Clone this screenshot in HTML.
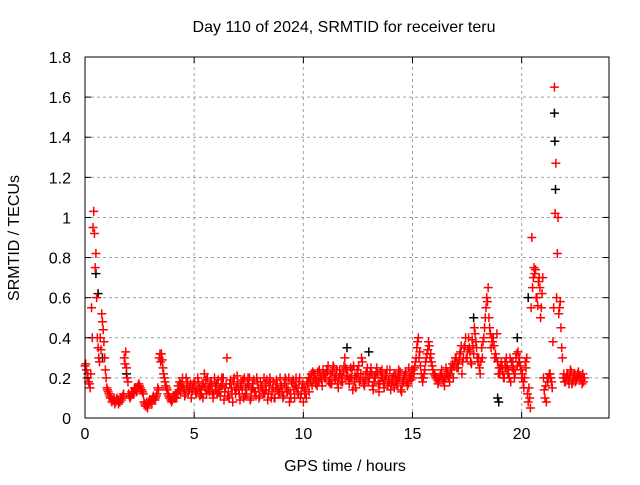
<!DOCTYPE html>
<html><head><meta charset="utf-8"><style>
body{margin:0;background:#fff;}
svg text{font-family:"Liberation Sans",sans-serif;font-size:16px;fill:#000;}
</style></head><body>
<svg width="640" height="480" xmlns="http://www.w3.org/2000/svg">
<g id="grid"></g>
<g id="marks"></g>
<rect x="85" y="57" width="524" height="361" fill="none" stroke="#000" stroke-width="1"/>
<g id="ticks"></g>
<text x="344" y="32" text-anchor="middle">Day 110 of 2024, SRMTID for receiver teru</text>
<text x="345" y="471" text-anchor="middle">GPS time / hours</text>
<text transform="translate(19,238) rotate(-90)" text-anchor="middle">SRMTID / TECUs</text>
</svg>
<script>
const xTicks=[0,5,10,15,20];
const yTicks=[0,0.2,0.4,0.6,0.8,1,1.2,1.4,1.6,1.8];
const yTickLabels=["0","0.2","0.4","0.6","0.8","1","1.2","1.4","1.6","1.8"];
const red1=[0.26,0.2,0.17,0.55,1.03,0.82,0.35,0.4,0.48,0.3,
0.15,0.12,0.1,0.09,0.08,0.09,0.08,0.1,0.3,0.25,
0.12,0.11,0.13,0.14,0.15,0.16,0.14,0.08,0.06,0.07,
0.08,0.1,0.09,0.12,0.3,0.32,0.22,0.16,0.12,0.1,
0.09,0.11,0.1,0.14,0.17,0.15,0.12,0.18,0.15,0.13,
0.16,0.12,0.18,0.14,0.1,0.15,0.2,0.13,0.17,0.12,
0.14,0.19,0.11,0.16,0.13,0.3,0.1,0.15,0.18,0.12,
0.17,0.09,0.14,0.2,0.12,0.16,0.1,0.15,0.13,0.18,
0.11,0.16,0.2,0.14,0.12,0.18,0.15,0.1,0.17,0.13,
0.16,0.11,0.19,0.14,0.12,0.17,0.1,0.15,0.18,0.12,
0.08,0.14,0.17,0.2,0.16,0.22,0.19,0.18,0.21,0.24,
0.2,0.23,0.19,0.17,0.25,0.21,0.15,0.22,0.18,0.3,
0.24,0.17,0.2,0.26,0.15,0.22,0.19,0.28,0.16,0.23,
0.18,0.25,0.14,0.2,0.22,0.17,0.24,0.15,0.21,0.19,
0.14,0.18,0.22,0.16,0.2,0.13,0.19,0.23,0.17,0.21,
0.2,0.25,0.35,0.3,0.22,0.2,0.28,0.34,0.3,0.26,
0.22,0.2,0.18,0.22,0.19,0.2,0.23,0.18,0.24,0.26,
0.3,0.25,0.33,0.28,0.36,0.3,0.35,0.27,0.32,0.38,
0.28,0.22,0.3,0.45,0.6,0.5,0.35,0.4,0.32,0.28,
0.22,0.26,0.2,0.3,0.24,0.18,0.28,0.22,0.26,0.3,
0.2,0.15,0.25,0.08,0.05,0.65,0.72,0.6,0.7,0.55,
0.2,0.16,0.18,0.22,0.15,1.65,0.6,0.52,0.45,0.2,
0.18,0.22,0.2,0.17,0.21,0.19,0.23,0.2,0.22];
const red2=[0.24,0.18,0.22,0.95,0.75,0.4,0.28,0.52,0.38,0.2,
0.13,0.1,0.09,0.07,0.1,0.08,0.09,0.12,0.33,0.18,
0.1,0.12,0.15,0.13,0.17,0.14,0.12,0.06,0.05,0.09,
0.07,0.09,0.11,0.14,0.28,0.25,0.18,0.14,0.1,0.08,
0.1,0.12,0.16,0.13,0.2,0.11,0.16,0.14,0.1,0.17,
0.13,0.2,0.11,0.16,0.22,0.12,0.15,0.18,0.1,0.16,
0.12,0.15,0.2,0.09,0.17,0.13,0.19,0.08,0.14,0.21,
0.12,0.18,0.1,0.15,0.2,0.09,0.17,0.13,0.2,0.1,
0.15,0.12,0.17,0.09,0.2,0.13,0.1,0.19,0.12,0.16,
0.1,0.2,0.13,0.08,0.18,0.14,0.2,0.12,0.1,0.17,
0.12,0.18,0.13,0.22,0.19,0.17,0.23,0.2,0.16,0.2,
0.24,0.18,0.22,0.26,0.19,0.17,0.24,0.2,0.26,0.21,
0.19,0.25,0.14,0.21,0.24,0.18,0.3,0.17,0.22,0.2,
0.23,0.16,0.21,0.25,0.13,0.2,0.17,0.22,0.16,0.24,
0.2,0.15,0.19,0.24,0.14,0.18,0.22,0.16,0.2,0.24,
0.22,0.3,0.4,0.26,0.18,0.24,0.32,0.36,0.28,0.22,
0.2,0.17,0.21,0.2,0.16,0.22,0.2,0.25,0.2,0.3,
0.27,0.32,0.22,0.35,0.3,0.4,0.28,0.36,0.42,0.3,
0.25,0.35,0.4,0.55,0.65,0.42,0.38,0.3,0.42,0.25,
0.28,0.2,0.25,0.22,0.3,0.25,0.2,0.32,0.28,0.24,
0.18,0.28,0.12,0.1,0.9,0.75,0.6,0.68,0.5,0.7,
0.1,0.2,0.22,0.18,0.55,1.27,1.0,0.58,0.3,0.18,
0.21,0.17,0.23,0.2,0.18,0.22,0.2,0.17,0.2];
const red3=[0.27,0.22,0.15,0.4,0.92,0.6,0.3,0.34,0.44,0.24,
0.14,0.11,0.08,0.1,0.09,0.07,0.1,0.11,0.27,0.2,
0.11,0.13,0.12,0.15,0.16,0.15,0.13,0.07,0.08,0.08,
0.09,0.11,0.1,0.15,0.32,0.29,0.2,0.15,0.11,0.09,
0.11,0.1,0.13,0.18,0.16,0.14,0.2,0.13,0.17,0.15,
0.18,0.14,0.15,0.12,0.17,0.19,0.14,0.16,0.13,0.2,
0.17,0.13,0.16,0.2,0.15,0.11,0.17,0.12,0.2,0.15,
0.14,0.16,0.19,0.11,0.17,0.2,0.14,0.19,0.11,0.15,
0.18,0.14,0.12,0.19,0.16,0.1,0.18,0.15,0.14,0.2,
0.13,0.17,0.15,0.2,0.1,0.19,0.16,0.13,0.2,0.15,
0.15,0.1,0.2,0.18,0.23,0.2,0.16,0.24,0.19,0.22,
0.22,0.26,0.17,0.23,0.2,0.24,0.2,0.18,0.23,0.25,
0.21,0.2,0.24,0.18,0.2,0.26,0.22,0.2,0.19,0.25,
0.2,0.22,0.18,0.23,0.17,0.23,0.2,0.19,0.24,0.18,
0.17,0.21,0.18,0.2,0.23,0.17,0.21,0.18,0.25,0.19,
0.24,0.28,0.38,0.33,0.2,0.22,0.3,0.38,0.32,0.24,
0.21,0.19,0.2,0.24,0.18,0.25,0.21,0.22,0.27,0.28,
0.25,0.29,0.36,0.3,0.4,0.34,0.33,0.39,0.45,0.35,
0.3,0.28,0.38,0.5,0.58,0.45,0.4,0.36,0.3,0.22,
0.25,0.23,0.28,0.26,0.2,0.28,0.24,0.3,0.33,0.26,
0.22,0.2,0.3,0.15,0.55,0.7,0.74,0.56,0.65,0.62,
0.14,0.08,0.2,0.2,0.38,1.02,0.82,0.55,0.35,0.22,
0.2,0.19,0.24,0.18,0.22,0.2,0.21,0.19,0.18];
const blackTimes=[0.5,0.6,0.8,1.9,12.0,13.0,17.8,18.9,18.95,19.8,20.3,21.5,21.52,21.55];
const blackValues=[0.72,0.62,0.3,0.22,0.35,0.33,0.5,0.1,0.08,0.4,0.6,1.52,1.38,1.14];
const X0=85,X1=609,Y0=418,Y1=57,XMAX=24,YMAX=1.8;
const sx=v=>X0+v/XMAX*(X1-X0);
const sy=v=>Y0-v/YMAX*(Y0-Y1);
const NS='http://www.w3.org/2000/svg';
const grid=document.getElementById('grid'),ticks=document.getElementById('ticks'),marks=document.getElementById('marks');
function mk(tag,attrs,parent){const e=document.createElementNS(NS,tag);for(const k in attrs)e.setAttribute(k,attrs[k]);parent.appendChild(e);return e;}
xTicks.forEach(t=>{const x=sx(t);
 if(t>0){const g=mk('line',{x1:x,x2:x,y1:Y0,y2:Y1,stroke:'#a0a0a0','stroke-dasharray':'3,3'},grid);
 
 }
 const a=mk('line',{x1:x,x2:x,y1:Y0,y2:Y0-6,stroke:'#000'},ticks);
 
 
 const b=mk('line',{x1:x,x2:x,y1:Y1,y2:Y1+6,stroke:'#000'},ticks);
 
 
 const l=mk('text',{x:x,y:Y0+21,'text-anchor':'middle'},ticks);l.textContent=String(t);
 
 
});
yTicks.forEach((t,i)=>{const y=sy(t);
 if(t>0&&t<YMAX){const g=mk('line',{x1:X0,x2:X1,y1:y,y2:y,stroke:'#a0a0a0','stroke-dasharray':'3,3'},grid);
 
 }
 const a=mk('line',{x1:X0,x2:X0+6,y1:y,y2:y,stroke:'#000'},ticks);
 
 
 const b=mk('line',{x1:X1,x2:X1-6,y1:y,y2:y,stroke:'#000'},ticks);
 
 
 const l=mk('text',{x:X0-14,y:y+6,'text-anchor':'end'},ticks);l.textContent=yTickLabels[i];
 
 
});
function plus(t,v,c,name){const x=sx(t),y=sy(v);
 const p=mk('path',{d:`M${x-4.5},${y}H${x+4.5}M${x},${y-4.5}V${y+4.5}`,stroke:c,'stroke-width':1.5,fill:'none'},marks);
 
 }
blackTimes.forEach((t,i)=>plus(t,blackValues[i],'#000','black-point'));
red1.forEach((v,i)=>plus(i*0.1,v,'#ff0000','red-point'));
red3.forEach((v,i)=>plus(i*0.1+0.033,v,'#ff0000','red-point'));
red2.forEach((v,i)=>plus(i*0.1+0.066,v,'#ff0000','red-point'));
</script>
</body></html>
